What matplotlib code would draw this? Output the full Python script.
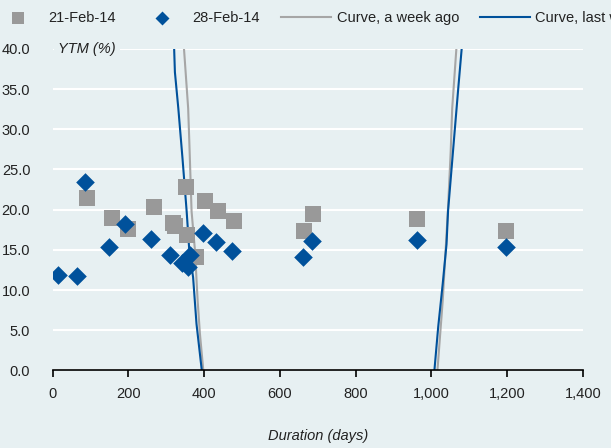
import numpy as np
import matplotlib.pyplot as plt
from matplotlib.ticker import FuncFormatter

# data
dur_prev = [92, 156, 198, 268, 317, 322, 351, 354, 380, 402, 437, 479, 664, 688, 961, 1197]
ytm_prev = [21.4, 19.0, 17.6, 20.3, 18.4, 18.0, 22.8, 16.9, 14.1, 21.1, 19.8, 18.6, 17.4, 19.4, 18.8, 17.3]

dur_last = [15, 64, 86, 149, 191, 260, 311, 343, 358, 364, 396, 431, 473, 660, 684, 961, 1197]
ytm_last = [11.9, 11.7, 23.4, 15.4, 18.2, 16.4, 14.4, 13.4, 12.9, 14.4, 17.1, 16.0, 14.9, 14.1, 16.1, 16.2, 15.4]

# fitted curves (shown only where they cross the visible range)
curve_prev_x1 = [347, 358, 361, 367, 376, 383, 389, 398]
curve_prev_y1 = [40.0, 32.6, 28.5, 19.8, 14.9, 8.7, 4.6, 0.0]
curve_prev_x2 = [1016, 1030, 1044, 1051, 1055, 1066]
curve_prev_y2 = [0.0, 8.7, 20.2, 27.2, 32.6, 40.0]

curve_last_x1 = [321, 323, 332, 343, 354, 361, 371, 380, 394]
curve_last_y1 = [40.0, 37.1, 32.6, 26.4, 19.8, 14.9, 11.6, 5.8, 0.0]
curve_last_x2 = [1008, 1018, 1030, 1040, 1044, 1060, 1071, 1080]
curve_last_y2 = [0.0, 5.4, 10.8, 15.7, 19.8, 28.9, 35.1, 40.0]

bg = '#e7f0f2'
gray = '#999999'
gray_line = '#a6a6a6'
blue = '#00519b'
txt = '#222222'

plt.rcParams['font.family'] = ['Liberation Sans', 'DejaVu Sans']
plt.rcParams['font.size'] = 10

fig = plt.figure(figsize=(6.11, 4.48), dpi=100, facecolor=bg)
ax = fig.add_axes([0.086, 0.173, 0.868, 0.718], facecolor=bg)

ax.plot(curve_prev_x1, curve_prev_y1, color=gray_line, lw=1.5, label='Curve, a week ago', zorder=2)
ax.plot(curve_prev_x2, curve_prev_y2, color=gray_line, lw=1.5, zorder=2)
ax.plot(curve_last_x1, curve_last_y1, color=blue, lw=1.5, label='Curve, last week', zorder=3)
ax.plot(curve_last_x2, curve_last_y2, color=blue, lw=1.5, zorder=3)

ax.scatter(dur_prev, ytm_prev, marker='s', s=125, color=gray, label='21-Feb-14', zorder=4, linewidths=0)
ax.scatter(dur_last, ytm_last, marker='D', s=90, color=blue, label='28-Feb-14', zorder=5, linewidths=0)

ax.set_xlim(0, 1400)
ax.set_ylim(0, 40)
ax.set_xticks(range(0, 1401, 200))
ax.set_yticks(np.arange(0, 40.1, 5))
ax.xaxis.set_major_formatter(FuncFormatter(lambda v, p: f'{int(v):,}'))
ax.yaxis.set_major_formatter(FuncFormatter(lambda v, p: f'{v:.1f}'))
ax.grid(axis='y', color='white', lw=1.5, zorder=0)
ax.set_axisbelow(True)
for s in ['top', 'right', 'left']:
    ax.spines[s].set_visible(False)
ax.spines['bottom'].set_color('black')
ax.spines['bottom'].set_linewidth(1.2)
ax.spines['bottom'].set_zorder(6)
ax.tick_params(axis='y', length=0, pad=16, labelsize=10.5, labelcolor=txt)
ax.tick_params(axis='x', direction='out', length=5, width=1.2, pad=7, labelsize=10.5, labelcolor=txt)

ax.text(0.01, 40, 'YTM (%)', style='italic', fontsize=10.5, va='center', ha='left',
        transform=ax.get_yaxis_transform(), color=txt,
        bbox=dict(facecolor=bg, edgecolor='none', pad=3), zorder=7)
ax.set_xlabel('Duration (days)', style='italic', fontsize=10.5, labelpad=20, color=txt)

handles, labels = ax.get_legend_handles_labels()
order = [2, 3, 0, 1]
leg = fig.legend([handles[i] for i in order], [labels[i] for i in order],
                 loc='center left', bbox_to_anchor=(-0.0115, 0.96), ncol=4, frameon=False,
                 fontsize=10.5, handlelength=3.4, columnspacing=1.45, handletextpad=0.4,
                 borderpad=0, borderaxespad=0, markerscale=0.75)
for t in leg.get_texts():
    t.set_color(txt)

fig.savefig('out.png', dpi=100, facecolor=bg)
